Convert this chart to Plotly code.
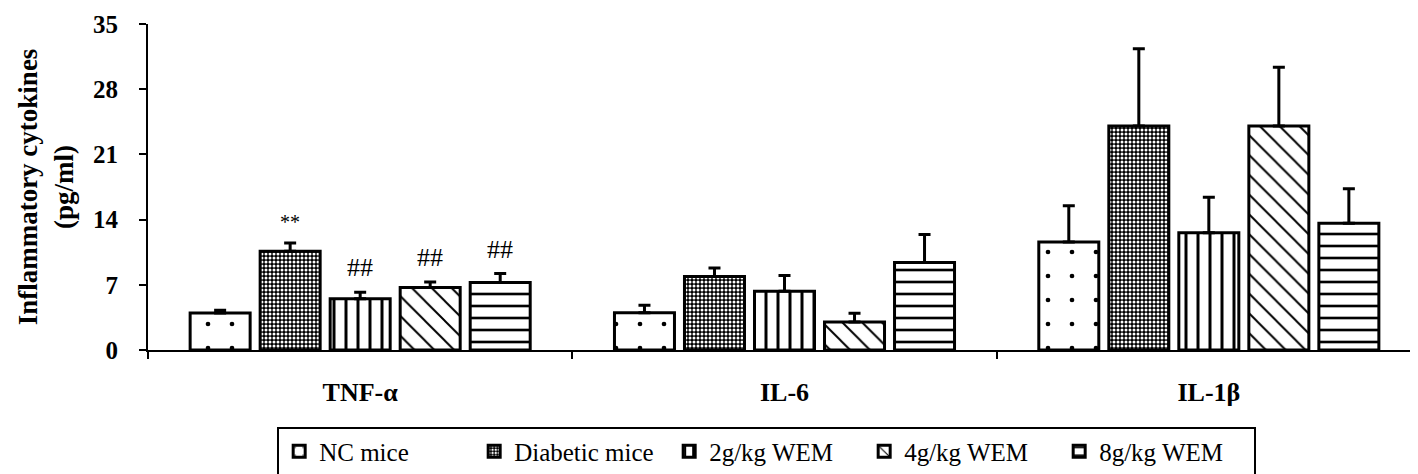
import plotly.graph_objects as go

cytokines = ['TNF-α', 'IL-6', 'IL-1β']
groups = ['NC mice', 'Diabetic mice', '2g/kg WEM', '4g/kg WEM', '8g/kg WEM']

# mean values per group, in order TNF-α, IL-6, IL-1β (pg/ml)
nc_mean = [3.97, 4.0, 11.6]
diabetic_mean = [10.6, 7.9, 24.05]
wem2_mean = [5.5, 6.3, 12.6]
wem4_mean = [6.7, 3.0, 24.05]
wem8_mean = [7.25, 9.4, 13.6]

# upper error bars
nc_err = [0.3, 0.8, 3.9]
diabetic_err = [0.9, 0.9, 8.3]
wem2_err = [0.7, 1.7, 3.8]
wem4_err = [0.6, 0.95, 6.3]
wem8_err = [0.95, 3.0, 3.7]

# significance marks (only on TNF-α)
diabetic_sig = ['**', '', '']
wem2_sig = ['##', '', '']
wem4_sig = ['##', '', '']
wem8_sig = ['##', '', '']

means = [nc_mean, diabetic_mean, wem2_mean, wem4_mean, wem8_mean]
errs = [nc_err, diabetic_err, wem2_err, wem4_err, wem8_err]
sigs = [['', '', ''], diabetic_sig, wem2_sig, wem4_sig, wem8_sig]

FONT = 'Liberation Serif'
BARGAP = 0.175
GROUPGAP = 0.143

# pattern for each group (the wavy one is approximated with horizontal lines)
patterns = [
    dict(shape='.', size=24, solidity=0.03, fgcolor='black', bgcolor='white'),
    dict(shape='.', size=4, solidity=0.45, fgcolor='white', bgcolor='black'),
    dict(shape='|', size=12, solidity=0.25, fgcolor='black', bgcolor='white'),
    dict(shape='\\', size=14, solidity=0.14, fgcolor='black', bgcolor='white'),
    dict(shape='-', size=12, solidity=0.22, fgcolor='black', bgcolor='white'),
]

fig = go.Figure()
for g, name in enumerate(groups):
    pat = dict(patterns[g], fillmode='replace', fgopacity=1)
    fig.add_trace(go.Bar(
        x=cytokines,
        y=means[g],
        name=name,
        marker=dict(color='white', line=dict(color='black', width=3), pattern=pat),
        error_y=dict(type='data', array=errs[g], arrayminus=[0] * len(errs[g]),
                     symmetric=False, color='black', thickness=3, width=6),
    ))

# significance marks above error bars, placed at the bar's offset in the group
slot = (1 - BARGAP) / len(groups)
for g in range(len(groups)):
    for c in range(len(cytokines)):
        if sigs[g][c] == '':
            continue
        xpos = c + (g - (len(groups) - 1) / 2) * slot
        fig.add_annotation(
            x=xpos, y=means[g][c] + errs[g][c], xref='x', yref='y',
            text=sigs[g][c], showarrow=False, yanchor='bottom', yshift=8,
            font=dict(family=FONT, size=26 if sigs[g][c] == '##' else 20, color='black'),
        )

fig.update_layout(
    width=1418, height=474,
    margin=dict(l=140, r=5, t=16, b=124),
    paper_bgcolor='white', plot_bgcolor='white',
    barmode='group', bargap=BARGAP, bargroupgap=GROUPGAP,
    font=dict(family=FONT, color='black'),
    showlegend=True,
    legend=dict(
        orientation='h', x=0.486, xanchor='center', y=-0.235, yanchor='top',
        bordercolor='black', borderwidth=2, font=dict(family=FONT, size=25),
        itemwidth=30, entrywidth=150, tracegroupgap=0,
    ),
)

fig.update_xaxes(
    type='category', tickson='boundaries', ticks='outside', ticklen=7, tickwidth=2,
    tickcolor='black', showline=True, linecolor='black', linewidth=2,
    showgrid=False, tickfont=dict(family=FONT, size=26, weight='bold'),
    ticklabelstandoff=18, automargin=False,
)
fig.update_yaxes(
    range=[0, 35], dtick=7, ticks='outside', ticklen=7, tickwidth=2, tickcolor='black',
    showline=True, linecolor='black', linewidth=2, showgrid=False, zeroline=False,
    tickfont=dict(family=FONT, size=25, weight='bold'), ticklabelstandoff=16,
    ticklabeloverflow='allow', automargin=False,
    title=dict(text='Inflammatory cytokines<br>(pg/ml)', standoff=12,
               font=dict(family=FONT, size=27, weight='bold')),
)

fig.write_html('out.html')
